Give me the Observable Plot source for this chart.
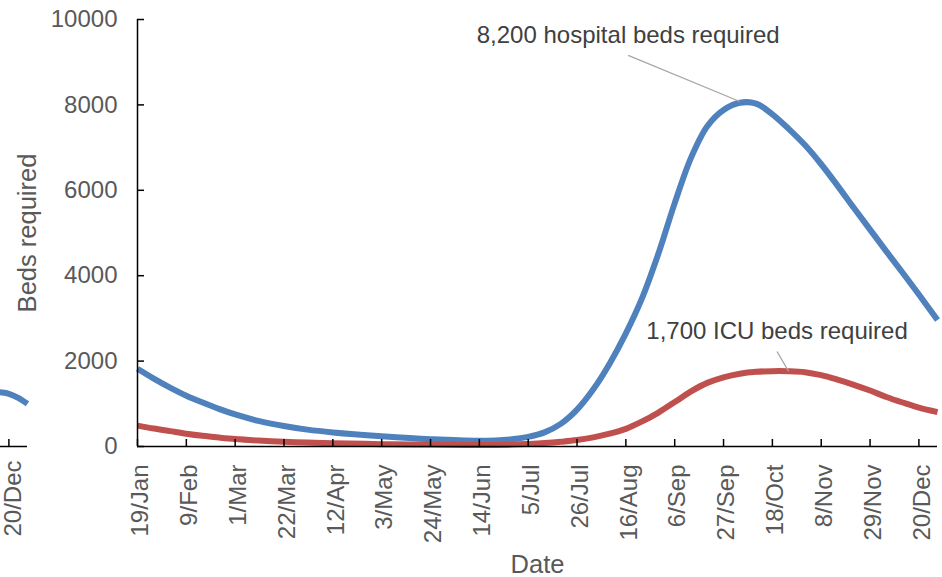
<!DOCTYPE html>
<html><head><meta charset="utf-8">
<script src="https://cdn.jsdelivr.net/npm/d3@7"></script>
<script src="https://cdn.jsdelivr.net/npm/@observablehq/plot@0.6"></script>
<style>
html,body{margin:0;padding:0;background:#fff;}
#wrap{position:relative;width:942px;height:577px;overflow:hidden;background:#fff;}
#wrap svg{position:absolute;top:0;}
</style></head><body><div id="wrap"></div>
<script>
// ---- data ----
const dates = ["2020-01-19","2020-01-26","2020-02-02","2020-02-09","2020-02-16","2020-02-23","2020-03-01","2020-03-11","2020-03-22","2020-04-01","2020-04-12","2020-05-03","2020-05-24","2020-06-14","2020-06-28","2020-07-05","2020-07-12","2020-07-19","2020-07-26","2020-08-02","2020-08-09","2020-08-16","2020-08-23","2020-08-30","2020-09-06","2020-09-13","2020-09-20","2020-09-27","2020-10-04","2020-10-11","2020-10-18","2020-10-25","2020-11-01","2020-11-08","2020-11-15","2020-11-22","2020-11-29","2020-12-06","2020-12-13","2020-12-20","2020-12-28"];
const hospitalBeds = [1820,1590,1380,1190,1030,880,750,600,480,395,330,240,170,135,170,225,330,530,864,1340,1940,2650,3480,4520,5700,6760,7500,7880,8050,8030,7780,7440,7060,6610,6110,5590,5080,4570,4070,3560,2960];
const icuBeds = [490,420,360,300,250,210,175,140,110,92,78,55,45,35,45,60,80,110,150,215,300,414,587,795,1040,1290,1490,1620,1705,1750,1764,1762,1740,1670,1565,1445,1310,1160,1030,910,805];
const tickDates = ["2020-01-19","2020-02-09","2020-03-01","2020-03-22","2020-04-12","2020-05-03","2020-05-24","2020-06-14","2020-07-05","2020-07-26","2020-08-16","2020-09-06","2020-09-27","2020-10-18","2020-11-08","2020-11-29","2020-12-20"];
const yTicks = [0,2000,4000,6000,8000,10000];
const xDomain = ["2020-01-19","2020-12-28"];
const yDomain = [0,10000];
// fragment of the neighbouring chart visible at the left edge
const prevDates = ["2020-12-10","2020-12-14","2020-12-17","2020-12-20","2020-12-24","2020-12-28"];
const prevHospital = [1270,1275,1265,1235,1140,1000];
const prevTicks = ["2020-12-20"];
// annotations
const annText = ["8,200 hospital beds required","1,700 ICU beds required"];
const annX = ["2020-08-17","2020-10-20"];
const annY = [9440,2510];
const leadX1 = ["2020-08-17","2020-10-20"];
const leadY1 = [9160,2225];
const leadX2 = ["2020-10-04","2020-10-25"];
const leadY2 = [8080,1756];

const P = s => new Date(s);
const series = [
  ...dates.map((d,i)=>({date:P(d), value:hospitalBeds[i], s:"Hospital"})),
  ...dates.map((d,i)=>({date:P(d), value:icuBeds[i], s:"ICU"}))
];
const fmt = d3.utcFormat("%-d/%b");
const FONT = "'Liberation Sans', Arial, sans-serif";
const W = 942, H = 577, ML = 137, MR = 5, MT = 19, MB = 131;
const frameW = W-ML-MR, frameH = H-MT-MB;
const LW = 6;
const TF = 24;

const main = Plot.plot({
  width: W, height: H,
  marginLeft: ML, marginRight: MR, marginTop: MT, marginBottom: MB,
  style: {fontFamily: FONT, fontSize: TF + "px", color: "#595959", background: "white", overflow: "visible"},
  x: {type: "utc", domain: xDomain.map(P), label: null},
  y: {domain: yDomain, label: null},
  marks: [
    Plot.line(series.filter(d=>d.s==="Hospital"), {x:"date", y:"value", stroke:"#4F81BD", strokeWidth:LW, curve:"catmull-rom", strokeLinecap:"butt"}),
    Plot.line(series.filter(d=>d.s==="ICU"), {x:"date", y:"value", stroke:"#C0504D", strokeWidth:LW, curve:"catmull-rom", strokeLinecap:"butt"}),
    Plot.ruleY([0], {stroke:"#000", strokeWidth:1.5}),
    Plot.ruleX([P(xDomain[0])], {stroke:"#000", strokeWidth:1.5}),
    Plot.ruleX(tickDates.map(P), {stroke:"#000", strokeWidth:1.5, insetTop: frameH-7}),
    Plot.ruleY(yTicks, {stroke:"#000", strokeWidth:1.5, insetRight: frameW-7}),
    Plot.axisX({ticks: tickDates.map(P), tickFormat: fmt, tickRotate: -90, tickSize: 0, tickPadding: 18, dx: 3, label: null, fill:"#595959", fontSize: TF}),
    Plot.axisY({ticks: yTicks, tickFormat: d => String(d), tickSize: 0, tickPadding: 20, label: null, fill:"#595959", fontSize: TF}),
    Plot.text(["Beds required"], {frameAnchor:"left", rotate:-90, textAnchor:"middle", dx:-110, fontSize:25.5, fill:"#595959"}),
    Plot.text(["Date"], {frameAnchor:"bottom", dy:126, textAnchor:"middle", lineAnchor:"bottom", fontSize:25.5, fill:"#595959"}),
    Plot.link(annText.map((t,i)=>i), {x1: i=>P(leadX1[i]), y1: i=>leadY1[i], x2: i=>P(leadX2[i]), y2: i=>leadY2[i], stroke:"#A6A6A6", strokeWidth:1.3}),
    Plot.text(annText.map((t,i)=>i), {x: i=>P(annX[i]), y: i=>annY[i], text: i=>annText[i], textAnchor:"middle", lineAnchor:"bottom", fontSize:24, fill:"#404040"})
  ]
});

const frag = Plot.plot({
  width: W, height: H,
  marginLeft: ML, marginRight: MR, marginTop: MT, marginBottom: MB,
  style: {fontFamily: FONT, fontSize: TF + "px", color: "#595959", background: "transparent", overflow: "visible"},
  x: {type: "utc", domain: xDomain.map(P), label: null, axis: null},
  y: {domain: yDomain, label: null, axis: null},
  marks: [
    Plot.line(prevDates.map((d,i)=>({date:P(d), value:prevHospital[i]})), {x:"date", y:"value", stroke:"#4F81BD", strokeWidth:LW, curve:"catmull-rom", strokeLinecap:"butt"}),
    Plot.ruleY([0], {stroke:"#000", strokeWidth:1.5, insetLeft: frameW-40}),
    Plot.ruleX(prevTicks.map(P), {stroke:"#000", strokeWidth:1.5, insetTop: frameH-7}),
    Plot.axisX({ticks: prevTicks.map(P), tickFormat: fmt, tickRotate: -90, tickSize: 0, tickPadding: 14, dx: 4, label: null, fill:"#595959", fontSize: TF})
  ]
});

const wrap = document.getElementById("wrap");
main.style.left = "0px";
wrap.appendChild(main);
frag.style.left = "-910px";
wrap.appendChild(frag);
</script>
</body></html>
